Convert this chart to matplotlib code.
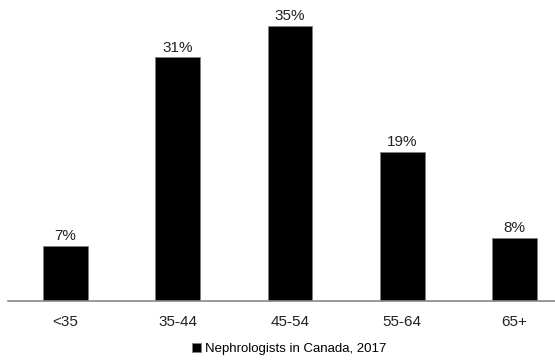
import numpy as np
import matplotlib.pyplot as plt
from matplotlib.patches import Patch

plt.rcParams["font.family"] = ["Liberation Sans", "DejaVu Sans"]

age_groups = ["<35", "35-44", "45-54", "55-64", "65+"]
share = [7, 31, 35, 19, 8]
series_name = "Nephrologists in Canada, 2017"

fig = plt.figure(figsize=(5.55, 3.6), dpi=100)
ax = fig.add_axes([8 / 555, 59 / 360, 1 - 8 / 555, 301 / 360])

x = np.arange(len(age_groups))
bars = ax.bar(x, share, width=0.4, color="black", edgecolor="#7f7f7f", linewidth=0.6)

for xi, v in zip(x, share):
    ax.text(xi, v + 0.35, f"{v}%", ha="center", va="bottom", fontsize=11, color="#222222")

ax.set_xlim(-0.512, 4.36)
ax.set_ylim(0, 38.3)
ax.set_yticks([])
ax.set_xticks(x)
ax.set_xticklabels(age_groups, fontsize=11, color="#222222")
ax.tick_params(axis="x", length=0, pad=10)
for s in ["top", "right", "left"]:
    ax.spines[s].set_visible(False)
ax.spines["bottom"].set_color("#888888")
ax.spines["bottom"].set_linewidth(1.2)

handle = Patch(facecolor="black", edgecolor="#7f7f7f", linewidth=0.5)
fig.legend([handle], [series_name], loc="center", bbox_to_anchor=(289 / 555, 11 / 360),
           frameon=False, fontsize=9.5, handlelength=0.65, handleheight=0.65,
           handletextpad=0.3)

fig.savefig("out.png", dpi=100)
